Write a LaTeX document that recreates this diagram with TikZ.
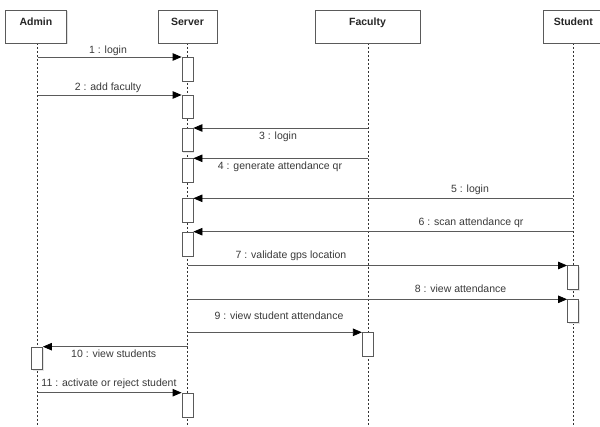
\documentclass[tikz,border=0pt]{standalone}
\usepackage{fontspec}
\setmainfont{Liberation Sans}
\usetikzlibrary{arrows.meta,shadows}
\definecolor{lineg}{HTML}{5A5A5A}
\definecolor{txt}{HTML}{3A3A3A}
\begin{document}
\begin{tikzpicture}[x=1pt,y=-1pt,
 head/.style={draw=lineg, fill=white, line width=0.8pt, minimum height=33pt, inner xsep=0pt, inner ysep=0pt, text height=16pt, text depth=17pt, font=\fontsize{10.5}{12}\selectfont\bfseries, text=black!85, drop shadow={shadow xshift=1.2pt, shadow yshift=-1.2pt, fill=black!12, opacity=1}},
 act/.style={draw=lineg, fill=white, line width=0.8pt, minimum width=11pt, inner sep=0pt, anchor=north, drop shadow={shadow xshift=1pt, shadow yshift=-1pt, fill=black!10, opacity=1}},
 life/.style={draw=black!80, line width=0.6pt, dash pattern=on 2pt off 2pt},
 msg/.style={draw=lineg, line width=0.8pt, -{Triangle[length=9pt,width=7.5pt,color=black]}},
 lbl/.style={font=\fontsize{10.5}{12}\selectfont, text=txt, anchor=base, inner sep=0pt}
]
\useasboundingbox[fill=white] (0,0) rectangle (600,427);
% lifelines
\coordinate (aT) at (37.7,43);  \coordinate (aB) at (37.7,427);
\coordinate (sT) at (187.7,43); \coordinate (sB) at (187.7,427);
\coordinate (fT) at (368.3,43); \coordinate (fB) at (368.3,427);
\coordinate (uT) at (573.3,43); \coordinate (uB) at (573.3,427);
\draw[life] (aT) -- (aB);
\draw[life] (sT) -- (sB);
\draw[life] (fT) -- (fB);
\draw[life] (uT) -- (uB);
% headers
\node[head, minimum width=61pt] (admin) at (36,26.5) {Admin};
\node[head, minimum width=59pt] (server) at (187.5,26.5) {Server};
\node[head, minimum width=105pt] (faculty) at (367.5,26.5) {Faculty};
\node[head, minimum width=60pt] (student) at (573.3,26.5) {Student};
% activations
\node[act, minimum height=24pt] (s1) at (187.5,57) {};
\node[act, minimum height=23pt] (s2) at (187.5,95) {};
\node[act, minimum height=23.5pt] (s3) at (187.5,128) {};
\node[act, minimum height=23.5pt] (s4) at (187.5,158.3) {};
\node[act, minimum height=23.5pt] (s5) at (187.5,198.3) {};
\node[act, minimum height=24pt] (s6) at (187.5,231.7) {};
\node[act, minimum height=24pt] (u7) at (573,265.5) {};
\node[act, minimum height=23pt] (u8) at (573,299.3) {};
\node[act, minimum height=23.7pt] (f9) at (367.8,332.3) {};
\node[act, minimum height=22.7pt] (a10) at (37,346.7) {};
\node[act, minimum height=24pt] (s11) at (187.5,392.7) {};
% message endpoints on lifelines
\coordinate (m1) at (37.7,57);
\coordinate (m2) at (37.7,95);
\coordinate (m3) at (368.3,128);
\coordinate (m4) at (368.3,158.3);
\coordinate (m5) at (573.3,198.3);
\coordinate (m6) at (573.3,231.7);
\coordinate (m7) at (187.7,265.5);
\coordinate (m8) at (187.7,299.3);
\coordinate (m9) at (187.7,332.3);
\coordinate (m10) at (187.7,346.7);
\coordinate (m11) at (37.7,392.7);
% messages
\draw[msg] (m1) -- (s1.north west);
\draw[msg] (m2) -- (s2.north west);
\draw[msg] (m3) -- (s3.north east);
\draw[msg] (m4) -- (s4.north east);
\draw[msg] (m5) -- (s5.north east);
\draw[msg] (m6) -- (s6.north east);
\draw[msg] (m7) -- (u7.north west);
\draw[msg] (m8) -- (u8.north west);
\draw[msg] (m9) -- (f9.north west);
\draw[msg] (m10) -- (a10.north east);
\draw[msg] (m11) -- (s11.north west);
% labels
\node[lbl] (l1) at (108,54) {1 : login};
\node[lbl] (l2) at (108,91) {2 : add faculty};
\node[lbl] (l3) at (278,140) {3 : login};
\node[lbl] (l4) at (280,170) {4 : generate attendance qr};
\node[lbl] (l5) at (470,193) {5 : login};
\node[lbl] (l6) at (471,226) {6 : scan attendance qr};
\node[lbl] (l7) at (291,259) {7 : validate gps location};
\node[lbl] (l8) at (460.5,293) {8 : view attendance};
\node[lbl] (l9) at (279,320) {9 : view student attendance};
\node[lbl] (l10) at (113.7,357.5) {10 : view students};
\node[lbl] (l11) at (109,387) {11 : activate or reject student};
\end{tikzpicture}
\end{document}
